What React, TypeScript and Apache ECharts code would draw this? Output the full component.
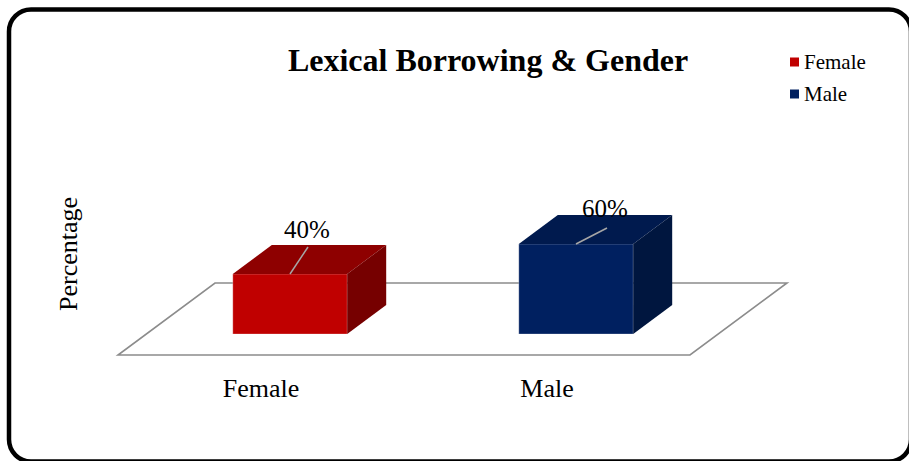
import React, { useEffect, useRef } from "react";
import * as echarts from "echarts";

const categories = ["Female", "Male"];
const seriesNames = ["Female", "Male"];
const values = [40, 60];
const frontColors = ["#C00000", "#002060"];
const topColors = ["#8E0000", "#001A4E"];
const sideColors = ["#760000", "#00163F"];
// leader-line end and label centre offsets from the front-top centre of each bar
const leaderEnds = [[18, -27], [31, -16]];
const labelCenters = [[17, -45], [29, -36]];

const FONT = "Liberation Serif";
const DEPTH_X = 39;
const DEPTH_Y = -29;

export default function App() {
  const ref = useRef<HTMLDivElement>(null);
  useEffect(() => {
    if (!ref.current) return;
    const chart = echarts.init(ref.current, null, { renderer: "svg" });

    const makeSeries = (i: number) => ({
      type: "custom",
      name: seriesNames[i],
      xAxisIndex: 0,
      yAxisIndex: 0,
      itemStyle: { color: frontColors[i] },
      data: [[i, values[i]]],
      renderItem: (params: any, api: any) => {
        const idx = api.value(0);
        const val = api.value(1);
        const top = api.coord([idx, val]);
        const base = api.coord([idx, 0]);
        const bw = api.size([1, 0])[0] * 0.4;
        const x0 = top[0] - bw / 2;
        const x1 = top[0] + bw / 2;
        const yT = top[1];
        const yB = base[1];
        const cx = top[0];
        const le = leaderEnds[idx];
        const lc = labelCenters[idx];
        return {
          type: "group",
          children: [
            {
              type: "polygon",
              shape: { points: [[x0, yT], [x1, yT], [x1, yB], [x0, yB]] },
              style: { fill: frontColors[idx], stroke: "rgba(255,255,255,0.35)", lineWidth: 0.8 },
            },
            {
              type: "polygon",
              shape: {
                points: [
                  [x0, yT],
                  [x0 + DEPTH_X, yT + DEPTH_Y],
                  [x1 + DEPTH_X, yT + DEPTH_Y],
                  [x1, yT],
                ],
              },
              style: { fill: topColors[idx] },
            },
            {
              type: "polygon",
              shape: {
                points: [
                  [x1, yT],
                  [x1 + DEPTH_X, yT + DEPTH_Y],
                  [x1 + DEPTH_X, yB + DEPTH_Y],
                  [x1, yB],
                ],
              },
              style: { fill: sideColors[idx] },
            },
            {
              type: "line",
              shape: { x1: cx, y1: yT, x2: cx + le[0], y2: yT + le[1] },
              style: { stroke: "#A6A6A6", lineWidth: 1.5 },
            },
            {
              type: "text",
              x: cx + lc[0],
              y: yT + lc[1],
              style: {
                text: values[idx] + "%",
                fill: "#000",
                fontFamily: FONT,
                fontSize: 25,
                align: "center",
                verticalAlign: "middle",
              },
            },
          ],
        };
      },
    });

    chart.setOption({
      animation: false,
      textStyle: { fontFamily: FONT },
      title: {
        text: "Lexical Borrowing & Gender",
        left: 483,
        textAlign: "center",
        top: 39,
        textStyle: { fontFamily: FONT, fontWeight: "bold", fontSize: 32, color: "#000" },
      },
      legend: {
        orient: "vertical",
        left: 785,
        top: 46,
        icon: "rect",
        itemWidth: 9,
        itemHeight: 9,
        itemGap: 10,
        data: seriesNames,
        textStyle: { fontFamily: FONT, fontSize: 21, color: "#000", lineHeight: 22 },
      },
      grid: [
        { left: 147, top: 184, width: 572, height: 150 },
        { left: 118, top: 205, width: 572, height: 150 },
      ],
      xAxis: [
        {
          type: "category",
          gridIndex: 0,
          data: categories,
          axisLine: { show: false },
          axisTick: { show: false },
          axisLabel: { show: false },
        },
        {
          type: "category",
          gridIndex: 1,
          data: categories,
          axisLine: { show: false },
          axisTick: { show: false },
          axisLabel: { fontFamily: FONT, fontSize: 26, color: "#000", margin: 20 },
        },
      ],
      yAxis: [
        {
          type: "value",
          gridIndex: 0,
          min: 0,
          max: 100,
          axisLine: { show: false },
          axisTick: { show: false },
          axisLabel: { show: false },
          splitLine: { show: false },
        },
        {
          type: "value",
          gridIndex: 1,
          show: false,
          min: 0,
          max: 100,
        },
      ],
      graphic: [
        {
          type: "rect",
          z: -10,
          shape: { x: 9, y: 9.5, width: 902, height: 452, r: 22 },
          style: { fill: "#fff", stroke: "#000", lineWidth: 4.5 },
        },
        {
          type: "polygon",
          z: -5,
          shape: { points: [[118, 355], [690, 355], [787, 283], [215, 283]] },
          style: { fill: "#fff", stroke: "#8C8C8C", lineWidth: 1.6 },
        },
        {
          type: "text",
          x: 68,
          y: 254,
          rotation: Math.PI / 2,
          style: {
            text: "Percentage",
            fontFamily: FONT,
            fontSize: 26,
            fill: "#000",
            align: "center",
            verticalAlign: "middle",
          },
        },
      ],
      series: [makeSeries(0), makeSeries(1)],
    });
    return () => chart.dispose();
  }, []);
  return (
    <div
      ref={ref}
      style={{ position: "absolute", left: 0, top: 0, width: 909, height: 461, background: "#fff" }}
    />
  );
}
